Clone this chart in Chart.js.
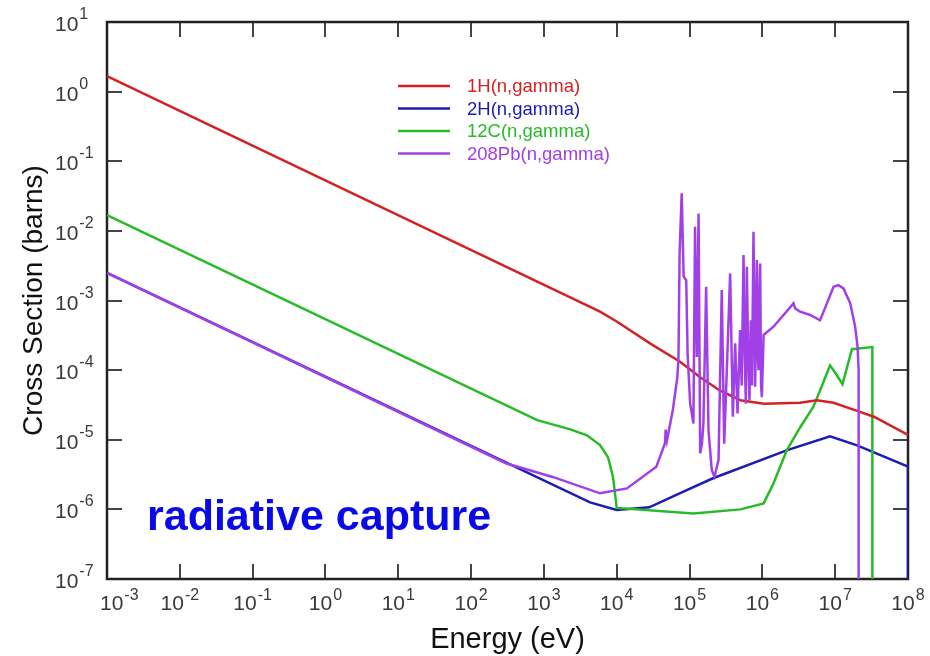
<!DOCTYPE html>
<html>
<head>
<meta charset="utf-8">
<script src="https://cdn.jsdelivr.net/npm/chart.js@4/dist/chart.umd.min.js"></script>
<style>
  body { margin: 0; background: #fff; }
  #wrap { width: 930px; height: 656px; }
</style>
</head>
<body>
<div id="wrap"><canvas id="chart" width="930" height="656"></canvas></div>
<script>

// tick exponents (labels are 10^k)
const xTickExps = [-3, -2, -1, 0, 1, 2, 3, 4, 5, 6, 7, 8];
const yTickExps = [-7, -6, -5, -4, -3, -2, -1, 0, 1];

const seriesNames = ['1H(n,gamma)', '2H(n,gamma)', '12C(n,gamma)', '208Pb(n,gamma)'];

// 1H(n,gamma)
const h1Energy = [1e-3, 5.9e3, 1e4, 2.9e4, 7.4e4, 1.4e5, 2.6e5, 5.0e5, 1.05e6, 3.3e6, 5.6e6, 9.5e6, 2.0e7, 3.4e7, 1e8];
const h1Sigma  = [1.67, 6.9e-4, 5.0e-4, 2.4e-4, 1.32e-4, 7.9e-5, 5.1e-5, 3.7e-5, 3.3e-5, 3.4e-5, 3.7e-5, 3.4e-5, 2.6e-5, 2.14e-5, 1.17e-5];

// 2H(n,gamma)
const h2Energy = [1e-3, 4.3e3, 1e4, 2.8e4, 8.1e4, 2.1e5, 2.2e6, 8.5e6, 2.0e7, 1e8, 1e8];
const h2Sigma  = [2.5e-3, 1.26e-6, 9.8e-7, 1.07e-6, 1.78e-6, 2.8e-6, 7.1e-6, 1.12e-5, 8.3e-6, 4.1e-6, 1e-8];

// 12C(n,gamma)
const c12Energy = [1e-3, 8.1e2, 2.3e3, 3.9e3, 5.9e3, 7.6e3, 8.9e3, 1.0e4, 1.13e5, 5.0e5, 1.04e6, 1.42e6, 2.17e6, 3.3e6, 5.0e6, 6.2e6, 8.5e6, 1.05e7, 1.26e7, 1.7e7, 3.24e7, 3.24e7];
const c12Sigma  = [1.69e-2, 1.91e-5, 1.41e-5, 1.16e-5, 8.4e-6, 5.6e-6, 2.9e-6, 1.05e-6, 8.7e-7, 1.0e-6, 1.22e-6, 2.35e-6, 7.1e-6, 1.5e-5, 2.95e-5, 5.1e-5, 1.17e-4, 8.5e-5, 6.3e-5, 2.0e-4, 2.14e-4, 1e-8];

// 208Pb(n,gamma)
const pb208Energy = [
    1e-3, 3.0e2, 1.35e3, 5.9e3, 1.38e4, 3.5e4, 4.6e4, 4.7e4, 4.9e4, 5.9e4, 6.8e4, 7.05e4,
    7.3e4, 7.8e4, 8.3e4, 9.0e4, 9.4e4, 1.02e5, 1.13e5, 1.19e5, 1.26e5, 1.33e5, 1.4e5, 1.48e5,
    1.55e5, 1.69e5, 1.82e5, 2.02e5, 2.2e5, 2.5e5, 2.77e5, 2.99e5, 3.25e5, 3.61e5, 3.93e5, 4.23e5,
    4.56e5, 4.95e5, 5.2e5, 5.51e5, 5.7e5, 5.93e5, 6.12e5, 6.4e5, 6.65e5, 6.95e5, 7.2e5, 7.55e5,
    7.96e5, 8.4e5, 8.6e5, 8.85e5, 9.1e5, 9.33e5, 9.6e5, 9.84e5, 1.04e6, 1.42e6, 2.68e6, 2.82e6,
    3.3e6, 4.54e6, 6.2e6, 7.7e6, 9.5e6, 1.11e7, 1.3e7, 1.61e7, 1.88e7, 2.03e7, 2.1e7, 2.1e7
];
const pb208Sigma = [
    2.5e-3, 4.6e-6, 2.9e-6, 1.7e-6, 2.0e-6, 4.1e-6, 8.9e-6, 1.4e-5, 9.8e-6, 2.7e-5, 7.9e-5, 1.55e-4,
    4.7e-3, 3.46e-2, 2.2e-3, 1.96e-3, 1.74e-4, 3.3e-5, 1.71e-5, 1.15e-2, 1.55e-4, 1.78e-2, 6.4e-6, 8.8e-6,
    1.71e-5, 1.57e-3, 1.37e-5, 3.66e-6, 2.94e-6, 5.1e-6, 1.41e-3, 8.8e-6, 1.0e-4, 2.45e-3, 2.14e-5, 2.42e-4,
    2.39e-5, 3.76e-4, 6.0e-5, 4.49e-3, 2.0e-4, 3.3e-5, 3.05e-3, 1.5e-4, 3.7e-5, 5.2e-4, 6.0e-5, 9.7e-3,
    5.75e-5, 3.8e-3, 2.0e-4, 1.0e-4, 1.2e-3, 3.4e-3, 6.0e-5, 4.1e-5, 3.2e-4, 4.2e-4, 9.1e-4, 7.7e-4,
    6.9e-4, 6.2e-4, 5.2e-4, 9.1e-4, 1.57e-3, 1.66e-3, 1.49e-3, 9.1e-4, 4.2e-4, 2.16e-4, 1.0e-4, 1e-8
];

const colors = ['#d42222', '#1c1cb4', '#28bb28', '#a040e6'];

function toPoints(xs, ys) {
    return xs.map((x, i) => ({ x: x, y: ys[i] }));
}

const FONT = '"Liberation Sans", Arial, Helvetica, sans-serif';

function drawPow(ctx, exp, x, baseY, baseSize, supSize, supRise) {
    ctx.font = baseSize + 'px ' + FONT;
    ctx.fillText('10', x, baseY);
    const w = ctx.measureText('10').width;
    ctx.font = supSize + 'px ' + FONT;
    ctx.fillText(String(exp), x + w + 1, baseY - supRise);
}

function powWidth(ctx, exp, baseSize, supSize) {
    ctx.font = baseSize + 'px ' + FONT;
    const w = ctx.measureText('10').width;
    ctx.font = supSize + 'px ' + FONT;
    return w + 1 + ctx.measureText(String(exp)).width;
}

const framePlugin = {
    id: 'framePlugin',
    beforeDatasetsDraw(chart) {
        const ctx = chart.ctx;
        const a = chart.chartArea;
        const xs = chart.scales.x;
        const ys = chart.scales.y;

        ctx.save();
        // inward ticks on all four sides
        ctx.strokeStyle = '#444';
        ctx.lineWidth = 2;
        ctx.beginPath();
        xTickExps.forEach((k) => {
            const px = Math.round(xs.getPixelForValue(Math.pow(10, k)));
            ctx.moveTo(px, a.bottom);
            ctx.lineTo(px, a.bottom - 15);
            ctx.moveTo(px, a.top);
            ctx.lineTo(px, a.top + 15);
        });
        yTickExps.forEach((k) => {
            const py = Math.round(ys.getPixelForValue(Math.pow(10, k)));
            ctx.moveTo(a.left, py);
            ctx.lineTo(a.left + 15, py);
            ctx.moveTo(a.right, py);
            ctx.lineTo(a.right - 15, py);
        });
        ctx.stroke();

        // frame
        ctx.strokeStyle = '#222';
        ctx.lineWidth = 2.5;
        ctx.strokeRect(a.left, a.top, a.right - a.left, a.bottom - a.top);
        ctx.restore();
    },
    afterDraw(chart) {
        const ctx = chart.ctx;
        const a = chart.chartArea;
        const xs = chart.scales.x;
        const ys = chart.scales.y;

        ctx.save();
        ctx.fillStyle = '#3a3a3a';
        ctx.textAlign = 'left';
        ctx.textBaseline = 'alphabetic';

        // x tick labels
        xTickExps.forEach((k) => {
            const px = xs.getPixelForValue(Math.pow(10, k));
            const w = powWidth(ctx, k, 21, 16);
            let start = px - w / 2;
            if (start < 100) start = 100;
            drawPow(ctx, k, start, 610, 21, 16, 10);
        });

        // y tick labels
        yTickExps.forEach((k) => {
            const py = ys.getPixelForValue(Math.pow(10, k));
            drawPow(ctx, k, 55, py + 9, 21, 16, 12);
        });

        // axis titles
        ctx.fillStyle = '#111';
        ctx.textAlign = 'center';
        ctx.font = '29px ' + FONT;
        ctx.fillText('Energy (eV)', (a.left + a.right) / 2, 648);

        ctx.save();
        ctx.translate(34, (a.top + a.bottom) / 2);
        ctx.rotate(-Math.PI / 2);
        ctx.textBaseline = 'middle';
        ctx.font = '28px ' + FONT;
        ctx.fillText('Cross Section (barns)', 0, 0);
        ctx.restore();

        // legend
        ctx.textAlign = 'left';
        ctx.textBaseline = 'middle';
        ctx.font = '18.5px ' + FONT;
        seriesNames.forEach((name, i) => {
            const y = 86 + i * 22.5;
            ctx.strokeStyle = colors[i];
            ctx.lineWidth = 2.5;
            ctx.beginPath();
            ctx.moveTo(398, y);
            ctx.lineTo(450, y);
            ctx.stroke();
            ctx.fillStyle = colors[i];
            ctx.fillText(name, 467, y + 1);
        });

        // annotation
        ctx.fillStyle = '#0a0ae8';
        ctx.textBaseline = 'alphabetic';
        ctx.font = 'bold 43px ' + FONT;
        ctx.fillText('radiative capture', 147, 530);

        ctx.restore();
    }
};

const ctx = document.getElementById('chart').getContext('2d');

new Chart(ctx, {
    type: 'line',
    data: {
        datasets: [
            {
                label: seriesNames[0],
                data: toPoints(h1Energy, h1Sigma),
                borderColor: colors[0],
                order: 1
            },
            {
                label: seriesNames[1],
                data: toPoints(h2Energy, h2Sigma),
                borderColor: colors[1],
                order: 3
            },
            {
                label: seriesNames[2],
                data: toPoints(c12Energy, c12Sigma),
                borderColor: colors[2],
                order: 2
            },
            {
                label: seriesNames[3],
                data: toPoints(pb208Energy, pb208Sigma),
                borderColor: colors[3],
                order: 0
            }
        ]
    },
    options: {
        responsive: false,
        animation: false,
        devicePixelRatio: 1,
        layout: {
            padding: { left: 107, top: 22, right: 22, bottom: 77 }
        },
        elements: {
            line: { borderWidth: 2.5, tension: 0, fill: false },
            point: { radius: 0 }
        },
        plugins: {
            legend: { display: false },
            tooltip: { enabled: false }
        },
        scales: {
            x: {
                type: 'logarithmic',
                min: 1e-3,
                max: 1e8,
                display: false
            },
            y: {
                type: 'logarithmic',
                min: 1e-7,
                max: 10,
                display: false
            }
        }
    },
    plugins: [framePlugin]
});
</script>
</body>
</html>
